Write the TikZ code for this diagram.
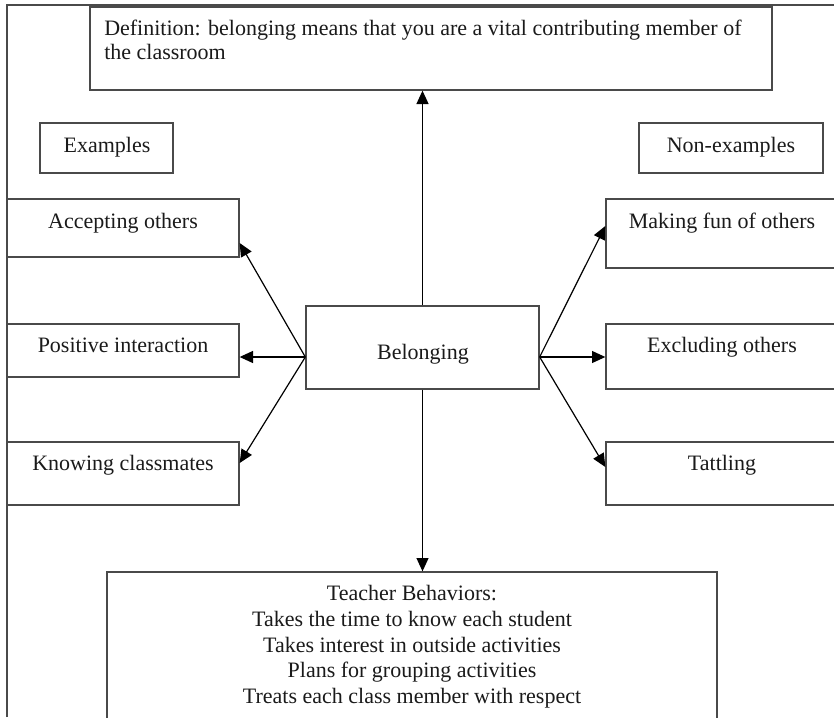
\documentclass[tikz,border=0pt]{standalone}
\usepackage{fontspec}
\setmainfont{Liberation Serif}
\usetikzlibrary{arrows.meta,fit,calc}
\definecolor{ink}{HTML}{1A1A1A}
\definecolor{rule}{HTML}{4A4A4A}
\begin{document}
\begin{tikzpicture}[x=0.75pt,y=-0.75pt,
  box/.style={draw=rule, line width=1pt, inner sep=0pt},
  txt/.style={font=\fontsize{16.5}{19}\selectfont, text=ink, inner sep=0pt, anchor=base},
  arr/.style={draw=black, line width=0.9pt, -{Triangle[length=10pt,width=9pt]}}]
\useasboundingbox (0,0) rectangle (834,717);
\clip (0,0) rectangle (834,717);

% page frame (top and left rules)
\draw[rule, line width=1.4pt] (7,717) -- (7,5) -- (834,5);

% boxes
\node[box, fit={(90,7) (772,90)}] (def) {};
\node[box, fit={(40,123) (173,173)}] (ex) {};
\node[box, fit={(639,123) (823,173)}] (nonex) {};
\node[box, fit={(7,199) (239,257)}] (acc) {};
\node[box, fit={(7,324) (239,377)}] (pos) {};
\node[box, fit={(7,442) (239,505)}] (know) {};
\node[box, fit={(606,199) (840,268)}] (fun) {};
\node[box, fit={(606,324) (840,389)}] (excl) {};
\node[box, fit={(606,442) (840,505)}] (tatt) {};
\node[box, fit={(306,306) (539,389)}] (bel) {};
\node[box, fit={(107,572) (717,740)}] (tb) {};

% texts
\node[txt, anchor=base west] (def-1) at (104,36) {Definition: belonging means that you are a vital contributing member of};
\node[txt, anchor=base west] (def-2) at (104,60) {the classroom};
\node[txt] (ex-t) at (107,152) {Examples};
\node[txt] (nonex-t) at (731,152) {Non-examples};
\node[txt] (acc-t) at (123,228) {Accepting others};
\node[txt] (pos-t) at (123,352) {Positive interaction};
\node[txt] (know-t) at (123,470) {Knowing classmates};
\node[txt] (fun-t) at (722,228) {Making fun of others};
\node[txt] (excl-t) at (722,352) {Excluding others};
\node[txt] (tatt-t) at (722,470) {Tattling};
\node[txt] (bel-t) at (423,359) {Belonging};
\node[txt] (tb-1) at (412,600) {Teacher Behaviors:};
\node[txt] (tb-2) at (412,626) {Takes the time to know each student};
\node[txt] (tb-3) at (412,652) {Takes interest in outside activities};
\node[txt] (tb-4) at (412,677) {Plans for grouping activities};
\node[txt] (tb-5) at (412,703) {Treats each class member with respect};

% connectors
\coordinate (hl) at ($(bel.west)+(0,9.5)$);
\coordinate (hr) at ($(bel.east)+(0,9.5)$);
\draw[arr] (bel.north) -- (bel.north |- def.south);
\draw[arr] (bel.south) -- (bel.south |- tb.north);
\draw[arr] (hl) -- ($(acc.east)+(0,15)$);
\draw[arr] (hl) -- (hl -| pos.east);
\draw[arr] (hl) -- ($(know.east)+(0,-10.5)$);
\draw[arr] (hr) -- ($(fun.west)+(0,-7.5)$);
\draw[arr] (hr) -- (hr -| excl.west);
\draw[arr] (hr) -- ($(tatt.west)+(0,-6.5)$);
\end{tikzpicture}
\end{document}
